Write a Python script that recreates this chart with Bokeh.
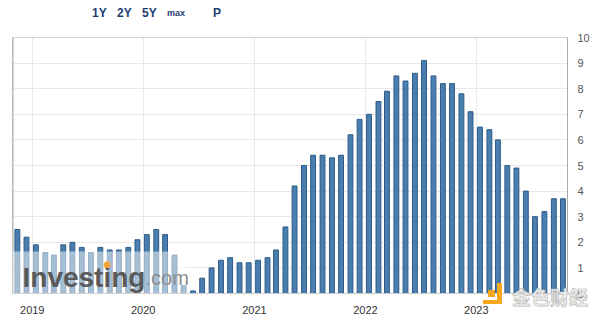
import datetime as dt
from bokeh.plotting import figure
from bokeh.layouts import column
from bokeh.models import (Range1d, FixedTicker, DatetimeTickFormatter, Label,
                          BoxAnnotation, Span, ColumnDataSource, Div)
from bokeh.embed import file_html
from bokeh.resources import INLINE

# ---- data (US CPI YoY, %, by reference month; plotted at release date) ----
data_months = [
    "2018-10", "2018-11", "2018-12",
    "2019-01", "2019-02", "2019-03", "2019-04", "2019-05", "2019-06",
    "2019-07", "2019-08", "2019-09", "2019-10", "2019-11", "2019-12",
    "2020-01", "2020-02", "2020-03", "2020-04", "2020-05", "2020-06",
    "2020-07", "2020-08", "2020-09", "2020-10", "2020-11", "2020-12",
    "2021-01", "2021-02", "2021-03", "2021-04", "2021-05", "2021-06",
    "2021-07", "2021-08", "2021-09", "2021-10", "2021-11", "2021-12",
    "2022-01", "2022-02", "2022-03", "2022-04", "2022-05", "2022-06",
    "2022-07", "2022-08", "2022-09", "2022-10", "2022-11", "2022-12",
    "2023-01", "2023-02", "2023-03", "2023-04", "2023-05", "2023-06",
    "2023-07", "2023-08", "2023-09",
]
cpi_values = [
    2.5, 2.2, 1.9,
    1.6, 1.5, 1.9, 2.0, 1.8, 1.6,
    1.8, 1.7, 1.7, 1.8, 2.1, 2.3,
    2.5, 2.3, 1.5, 0.3, 0.1, 0.6,
    1.0, 1.3, 1.4, 1.2, 1.2, 1.3,
    1.4, 1.7, 2.6, 4.2, 5.0, 5.4,
    5.4, 5.3, 5.4, 6.2, 6.8, 7.0,
    7.5, 7.9, 8.5, 8.3, 8.6, 9.1,
    8.5, 8.2, 8.2, 7.8, 7.1, 6.5,
    6.4, 6.0, 5.0, 4.9, 4.0, 3.0,
    3.2, 3.7, 3.7,
]
year_ticks = [2019, 2020, 2021, 2022, 2023]
y_ticks = list(range(0, 11))
range_buttons = ["1Y", "2Y", "5Y", "max", "P"]
release_day = 13


def release_date(m):
    y, mo = map(int, m.split("-"))
    mo += 1
    if mo > 12:
        y, mo = y + 1, 1
    return dt.datetime(y, mo, release_day)


EPOCH = dt.datetime(1970, 1, 1)


def ms(d):
    return (d - EPOCH).total_seconds() * 1000.0


x_start = dt.datetime(2018, 10, 28)
x_end = dt.datetime(2023, 10, 28)

src = ColumnDataSource(dict(x=[release_date(m) for m in data_months], top=cpi_values))

p = figure(width=592, height=290, x_axis_type="datetime",
           x_range=Range1d(x_start, x_end), y_range=Range1d(0, 10),
           y_axis_location="right", toolbar_location=None,
           output_backend="svg",
           min_border_left=12, min_border_right=20,
           min_border_top=8, min_border_bottom=26, margin=0)
p.background_fill_color = "white"
p.border_fill_color = "white"
p.outline_line_color = "#d4d4d4"

p.vbar(x="x", top="top", width=16 * 86400000, source=src,
       fill_color="#4a7eae", line_color="#2d5b88", line_width=1)

# axes
p.xaxis.ticker = FixedTicker(ticks=[ms(dt.datetime(y, 1, 1)) for y in year_ticks])
p.xaxis.formatter = DatetimeTickFormatter(years="%Y", months="%Y", days="%Y",
                                          hours="%Y", minutes="%Y", seconds="%Y",
                                          milliseconds="%Y", microseconds="%Y")
p.xaxis.major_tick_line_color = None
p.xaxis.minor_tick_line_color = None
p.xaxis.axis_line_color = "#cccccc"
p.xaxis.major_label_text_color = "#333333"
p.xaxis.major_label_text_font = "Liberation Sans"
p.xaxis.major_label_text_font_size = "11px"
p.xaxis.major_label_standoff = 6

p.yaxis.ticker = FixedTicker(ticks=y_ticks)
p.yaxis.major_tick_line_color = None
p.yaxis.minor_tick_line_color = None
p.yaxis.axis_line_color = "#aaaaaa"
p.yaxis.major_label_text_color = "#555555"
p.yaxis.major_label_text_font = "Liberation Sans"
p.yaxis.major_label_text_font_size = "11px"
p.yaxis.major_label_standoff = 4

p.xgrid.grid_line_color = "#e8e8e8"
p.ygrid.grid_line_color = "#e8e8e8"

p.add_layout(Span(location=ms(x_start), dimension="height",
                  line_color="#aaaaaa", line_width=2))

# Investing.com watermark
p.add_layout(BoxAnnotation(left=ms(x_start), right=ms(dt.datetime(2020, 5, 31)),
                           bottom=0, top=1.64, fill_color="white", fill_alpha=0.5,
                           line_color=None))
p.add_layout(Label(x=10, y=16, x_units="screen", y_units="screen", text="Investing",
                   text_font="Liberation Sans", text_font_style="bold",
                   text_font_size="28px", text_color="#5a5a5a",
                   text_baseline="alphabetic"))
p.add_layout(Label(x=133, y=16, x_units="screen", y_units="screen", text=".com",
                   text_font="Liberation Sans", text_font_size="20px",
                   text_color="#8c8c8c", text_baseline="alphabetic"))
p.add_layout(Label(x=95, y=30, x_units="screen", y_units="screen", text="●",
                   text_font="DejaVu Sans", text_font_size="9px",
                   text_color="#f2a33a", text_align="center", text_baseline="middle"))

# range buttons above the chart (HTML header)
btn_pos = [(92, 7, 12), (117, 7, 12), (142, 7, 12), (167, 9, 9), (213, 7, 12)]
spans = "".join(
    f'<div style="position:absolute;left:{x}px;top:{t}px;font:bold {fs}px/{fs}px '
    f'\'Liberation Sans\';color:#1e3f73;white-space:nowrap">{txt}</div>'
    for txt, (x, t, fs) in zip(range_buttons, btn_pos))
header = Div(text=f'<div style="position:relative;width:600px;height:29px">{spans}</div>',
             width=600, height=29, margin=0)

# 金色财经 watermark overlapping the bottom-right corner
wm_html = (
    '<div style="position:relative;width:130px;height:37px">'
    '<div style="position:absolute;left:18px;top:8px;width:7px;height:7px;background:#f5a81e"></div>'
    '<div style="position:absolute;left:27px;top:1px;width:5px;height:21px;background:#f5a81e"></div>'
    '<div style="position:absolute;left:13px;top:18px;width:19px;height:4px;background:#f5a81e"></div>'
    '<div style="position:absolute;left:42px;top:5px;font:bold 19px/19px \'Noto Sans CJK SC\';'
    'color:#f2f2f2;-webkit-text-stroke:0.7px #b8b8b8;white-space:nowrap">金色财经</div>'
    '</div>')
footer = Div(text=wm_html, width=130, height=37, margin=(-37, 0, 0, 470),
             styles={"position": "relative", "z-index": "10",
                     "background": "transparent"})

layout = column(header, p, footer, spacing=0)
open("out.html", "w").write(file_html(layout, INLINE))
